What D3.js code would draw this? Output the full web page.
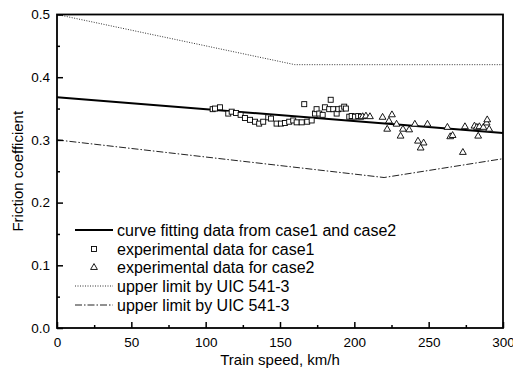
<!DOCTYPE html>
<html>
<head>
<meta charset="utf-8">
<script src="https://cdn.jsdelivr.net/npm/d3@7"></script>
<style>
  html, body { margin: 0; padding: 0; background: #fff; }
  svg { display: block; font-family: "Liberation Sans", Arial, Helvetica, sans-serif; }
</style>
</head>
<body>
<svg id="chart" width="513" height="376"></svg>
<script>
// Case 1 measurements: train speed (km/h) and friction coefficient
const case1Speed = [104.7, 106.3, 109.6, 115.2, 117.5, 120.4, 123.5, 126.4, 129.8, 133.2, 136.0, 138.7,
  142.1, 143.9, 147.7, 150.6, 153.3, 156.2, 158.9, 161.2, 164.6, 168.3, 171.3, 166.3, 173.5, 174.6,
  176.4, 178.7, 180.2, 183.1, 184.1, 185.8, 188.1, 189.2, 191.5, 193.2, 194.3, 196.6, 198.2, 200.4,
  202.6, 204.5];
const case1Mu = [0.349, 0.350, 0.352, 0.342, 0.345, 0.343, 0.340, 0.335, 0.332, 0.329, 0.326, 0.329,
  0.336, 0.334, 0.326, 0.326, 0.327, 0.329, 0.331, 0.328, 0.328, 0.329, 0.331, 0.357, 0.342, 0.349,
  0.342, 0.340, 0.352, 0.349, 0.364, 0.349, 0.342, 0.349, 0.350, 0.353, 0.350, 0.337, 0.338, 0.337,
  0.338, 0.337];

// Case 2 measurements
const case2Speed = [205.6, 207.8, 210.5, 219.0, 225.3, 223.3, 222.1, 228.4, 232.7, 236.9, 231.1, 240.7,
  242.8, 246.6, 244.6, 249.2, 262.6, 264.5, 266.1, 273.0, 274.4, 280.8, 282.4, 284.1, 286.8, 289.0,
  289.4, 290.7, 283.3];
const case2Mu = [0.337, 0.338, 0.337, 0.336, 0.340, 0.330, 0.317, 0.325, 0.317, 0.316, 0.306, 0.325,
  0.298, 0.295, 0.287, 0.325, 0.320, 0.305, 0.307, 0.280, 0.321, 0.322, 0.320, 0.321, 0.320, 0.327,
  0.332, 0.317, 0.306];

// Linear fit through both cases
const fitSpeed = [0, 300];
const fitMu = [0.368, 0.311];

// UIC 541-3 limits
const upperSpeed = [0, 160, 300];
const upperMu = [0.50, 0.42, 0.42];
const lowerSpeed = [0, 220, 300];
const lowerMu = [0.30, 0.24, 0.27];

const xTicks = [0, 50, 100, 150, 200, 250, 300];
const yTicks = [0.0, 0.1, 0.2, 0.3, 0.4, 0.5];

const legendLabels = [
  "curve fitting data from case1 and case2",
  "experimental data for case1",
  "experimental data for case2",
  "upper limit by UIC 541-3",
  "upper limit by UIC 541-3"
];

const svg = d3.select("#chart");
const margin = { left: 57, right: 10, top: 14.5, bottom: 48 };
const W = 513, H = 376;
const x = d3.scaleLinear().domain([0, 300]).range([margin.left, W - margin.right]);
const y = d3.scaleLinear().domain([0, 0.5]).range([H - margin.bottom, margin.top]);

const pts = (xs, ys) => xs.map((v, i) => [v, ys[i]]);
const line = d3.line().x(d => x(d[0])).y(d => y(d[1]));

// limit lines
svg.append("path").attr("d", line(pts(upperSpeed, upperMu)))
  .attr("fill", "none").attr("stroke", "#333").attr("stroke-width", 1)
  .attr("stroke-dasharray", "1,1.5");
svg.append("path").attr("d", line(pts(lowerSpeed, lowerMu)))
  .attr("fill", "none").attr("stroke", "#222").attr("stroke-width", 1)
  .attr("stroke-dasharray", "7,2,1.5,2");

// fit line
svg.append("path").attr("d", line(pts(fitSpeed, fitMu)))
  .attr("fill", "none").attr("stroke", "#000").attr("stroke-width", 2);

// markers
const sq = 5;
svg.append("g").selectAll("rect").data(pts(case1Speed, case1Mu)).join("rect")
  .attr("x", d => x(d[0]) - sq / 2).attr("y", d => y(d[1]) - sq / 2)
  .attr("width", sq).attr("height", sq)
  .attr("fill", "#fff").attr("stroke", "#000").attr("stroke-width", 0.9);

const tri = d3.symbol().type(d3.symbolTriangle).size(20);
svg.append("g").selectAll("path").data(pts(case2Speed, case2Mu)).join("path")
  .attr("d", tri)
  .attr("transform", d => `translate(${x(d[0])},${y(d[1])})`)
  .attr("fill", "#fff").attr("stroke", "#000").attr("stroke-width", 0.9);

// axes with inward ticks
const xAxis = d3.axisBottom(x).tickValues(xTicks).tickFormat(d3.format("d"))
  .tickSizeInner(-6).tickSizeOuter(0).tickPadding(9);
const gx = svg.append("g").attr("transform", `translate(0,${y(0)})`).call(xAxis);
const xMinor = d3.axisBottom(x).tickValues(d3.range(25, 300, 50)).tickFormat("")
  .tickSizeInner(-3).tickSizeOuter(0);
const gxm = svg.append("g").attr("transform", `translate(0,${y(0)})`).call(xMinor);

const yAxis = d3.axisLeft(y).tickValues(yTicks).tickFormat(d3.format(".1f"))
  .tickSizeInner(-6).tickSizeOuter(0).tickPadding(7);
const gy = svg.append("g").attr("transform", `translate(${x(0)},0)`).call(yAxis);
const yMinor = d3.axisLeft(y).tickValues(d3.range(0.05, 0.5, 0.1)).tickFormat("")
  .tickSizeInner(-3).tickSizeOuter(0);
const gym = svg.append("g").attr("transform", `translate(${x(0)},0)`).call(yMinor);

[gx, gxm, gy, gym].forEach(g => {
  g.select(".domain").remove();
  g.selectAll("line").attr("stroke", "#000").attr("stroke-width", 1.5);
  g.selectAll("text").attr("font-size", 13.5).attr("fill", "#000")
    .attr("font-family", "'Liberation Sans', Arial, sans-serif");
});

// frame
svg.append("rect").attr("x", x(0)).attr("y", y(0.5))
  .attr("width", x(300) - x(0)).attr("height", y(0) - y(0.5))
  .attr("fill", "none").attr("stroke", "#000").attr("stroke-width", 1.8);

// axis titles
svg.append("text").attr("x", (x(0) + x(300)) / 2).attr("y", 365)
  .attr("text-anchor", "middle").attr("font-size", 15).text("Train speed, km/h");
svg.append("text").attr("transform", `translate(23,${(y(0) + y(0.5)) / 2}) rotate(-90)`)
  .attr("text-anchor", "middle").attr("font-size", 15).text("Friction coefficient");

// legend
const lg = svg.append("g");
const rowY = [230, 249, 267.5, 286, 305];
const lx0 = 75, lx1 = 113, tx = 117;
legendLabels.forEach((t, i) => {
  const yy = rowY[i];
  if (i === 0) {
    lg.append("line").attr("x1", lx0).attr("x2", lx1).attr("y1", yy).attr("y2", yy)
      .attr("stroke", "#000").attr("stroke-width", 2);
  } else if (i === 1) {
    lg.append("rect").attr("x", (lx0 + lx1) / 2 - sq / 2).attr("y", yy - sq / 2)
      .attr("width", sq).attr("height", sq).attr("fill", "#fff")
      .attr("stroke", "#000").attr("stroke-width", 0.9);
  } else if (i === 2) {
    lg.append("path").attr("d", tri).attr("transform", `translate(${(lx0 + lx1) / 2},${yy})`)
      .attr("fill", "#fff").attr("stroke", "#000").attr("stroke-width", 0.9);
  } else if (i === 3) {
    lg.append("line").attr("x1", lx0).attr("x2", lx1).attr("y1", yy).attr("y2", yy)
      .attr("stroke", "#333").attr("stroke-width", 1).attr("stroke-dasharray", "1,1.5");
  } else {
    lg.append("line").attr("x1", lx0).attr("x2", lx1).attr("y1", yy).attr("y2", yy)
      .attr("stroke", "#222").attr("stroke-width", 1).attr("stroke-dasharray", "7,2,1.5,2");
  }
  lg.append("text").attr("x", tx).attr("y", yy).attr("dy", "0.35em")
    .attr("font-size", 16).text(t);
});
</script>
</body>
</html>
